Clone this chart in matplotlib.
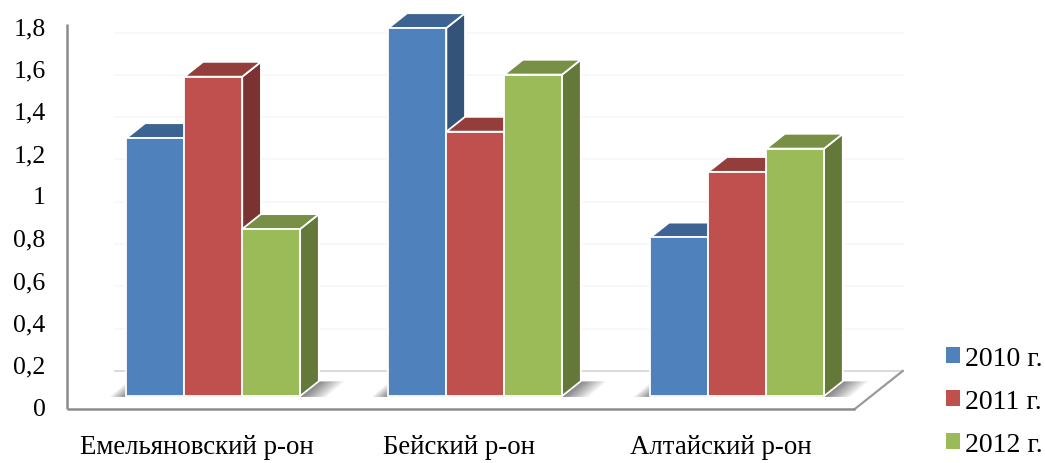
import numpy as np
import matplotlib.pyplot as plt
from matplotlib.patches import Polygon, Patch
from matplotlib.colors import to_rgb

plt.rcParams['font.family'] = ['Liberation Serif', 'DejaVu Serif']

districts = ['Емельяновский р-он', 'Бейский р-он', 'Алтайский р-он']
years = ['2010 г.', '2011 г.', '2012 г.']
v2010 = [1.22, 1.74, 0.75]
v2011 = [1.51, 1.25, 1.06]
v2012 = [0.79, 1.52, 1.17]
yticks = [0, 0.2, 0.4, 0.6, 0.8, 1.0, 1.2, 1.4, 1.6, 1.8]
ytick_labels = ['0', '0,2', '0,4', '0,6', '0,8', '1', '1,2', '1,4', '1,6', '1,8']

series = [v2010, v2011, v2012]
colors = ['#4F81BD', '#C0504D', '#9BBB59']

# oblique "3d" projection: full floor depth shifts by DX (x units) and DY (value units)
DX, DY = 0.183, 0.18
z0, z1 = 0.34, 0.73          # depth of the bar boxes on the floor
bw = 0.221                   # bar width in category units
xl, xr = -0.496, 2.511       # floor extent


def proj(x, v, z):
    return (x + z * DX, v + z * DY)


def shade(c, f):
    return tuple(np.array(to_rgb(c)) * f)


fig = plt.figure(figsize=(10.45, 4.64), dpi=100)
ax = fig.add_axes([0, 0, 1, 1])
ax.set_xlim(-0.752, 3.237)
ax.set_ylim(-0.2553, 1.9385)
ax.axis('off')

# floor and back wall grid
floor = [proj(xl, 0, 0), proj(xr, 0, 0), proj(xr, 0, 1), proj(xl, 0, 1)]
ax.add_patch(Polygon(floor, closed=True, facecolor='white', edgecolor='none', zorder=1))
for t in yticks:
    (xa, ya), (xb, yb) = proj(xl, t, 1), proj(xr, t, 1)
    ax.plot([xa, xb], [ya, yb], color='#d4d4d4' if t == 0 else '#f7f7f7', lw=1.2, zorder=1)
(xa, ya), (xb, yb) = proj(xr, 0, 0), proj(xr, 0, 1)
ax.plot([xa, xb], [ya, yb], color='#9a9a9a', lw=1.6, zorder=2)
ax.plot([xl, xr], [0, 0], color='#8c8c8c', lw=1.8, zorder=2, solid_capstyle='butt')
ax.plot([xl, xl], [0, 1.82], color='#8c8c8c', lw=1.8, zorder=2, solid_capstyle='butt')

# soft shadows of the bar groups on the floor
for i in range(len(districts)):
    left, right = i - 1.5 * bw, i + 1.5 * bw
    for k in range(24):
        e = (k / 23) ** 1.3
        pts = [proj(left - 0.065 * e, -0.004, z0), proj(right + 0.1 * e, -0.004, z0),
               proj(right + 0.1 * e, 0, z1 - 0.02 * (1 - e)), proj(left - 0.065 * e, 0, z1)]
        ax.add_patch(Polygon(pts, closed=True, facecolor='#3a3a3a', edgecolor='none',
                             alpha=0.04, zorder=3))

# bars: side, top and front faces drawn left to right
z = 10
for i in range(len(districts)):
    for j, vals in enumerate(series):
        h = vals[i]
        xa = i + (j - 1.5) * bw
        xb = xa + bw
        c = colors[j]
        side = [proj(xb, 0, z0), proj(xb, 0, z1), proj(xb, h, z1), proj(xb, h, z0)]
        top = [proj(xa, h, z0), proj(xb, h, z0), proj(xb, h, z1), proj(xa, h, z1)]
        front = [proj(xa, 0, z0), proj(xb, 0, z0), proj(xb, h, z0), proj(xa, h, z0)]
        for pts, fc in [(side, shade(c, 0.64)), (top, shade(c, 0.77)), (front, c)]:
            ax.add_patch(Polygon(pts, closed=True, facecolor=fc, edgecolor='white',
                                 lw=1.3, joinstyle='miter', zorder=z))
        z += 1

# value axis labels
for t, lab in zip(yticks, ytick_labels):
    ax.text(-0.578, t, lab, ha='right', va='center', fontsize=18.5)

# category labels
for i, name in enumerate(districts):
    ax.text(i, -0.178, name, ha='center', va='center', fontsize=19.4)

handles = [Patch(facecolor=c, edgecolor='none', label=y) for c, y in zip(colors, years)]
ax.legend(handles=handles, loc='upper left', bbox_to_anchor=(0.905, 0.252), frameon=False,
          fontsize=20, handlelength=0.5, handleheight=0.5, handletextpad=0.2,
          labelspacing=0.64, borderpad=0, borderaxespad=0)

fig.savefig('out.png', dpi=100)
